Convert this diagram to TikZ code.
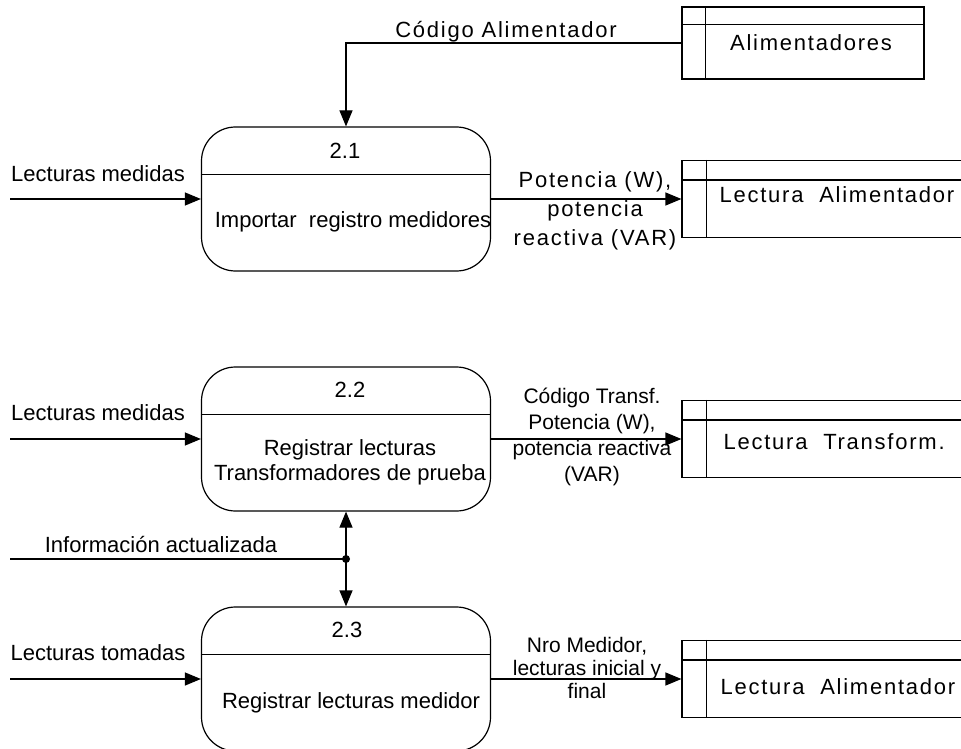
\documentclass[tikz,border=0pt]{standalone}
\usepackage{fontspec}
\setmainfont{Liberation Sans}
\usepackage{tikz}
\usetikzlibrary{arrows.meta}

\begin{document}
\begin{tikzpicture}[x=1pt,y=-1pt,line width=1.2pt,
  proc/.style={draw,rounded corners=34pt,minimum width=289pt,minimum height=144pt,inner sep=0pt},
  store/.style={draw,minimum width=280pt,minimum height=77pt,inner sep=0pt},
  txt/.style={inner sep=0pt,align=center,font=\fontsize{22}{25}\selectfont},
  wide/.style={inner sep=0pt,align=center,font=\fontsize{22}{29}\selectfont\addfontfeature{LetterSpace=8}},
  flow/.style={-{Triangle[length=16pt,width=13pt]}},
  dflow/.style={{Triangle[length=16pt,width=13pt]}-{Triangle[length=16pt,width=13pt]}}]
\useasboundingbox (0,0) rectangle (961,749);

\node[proc] (p21) at (346,199) {};
\node[proc] (p22) at (346,439) {};
\node[proc] (p23) at (346,679) {};
\draw ([yshift=-48pt]p21.north west) -- ([yshift=-48pt]p21.north east);
\draw ([yshift=-48pt]p22.north west) -- ([yshift=-48pt]p22.north east);
\draw ([yshift=-48pt]p23.north west) -- ([yshift=-48pt]p23.north east);
\node[txt] (n21) at (345,151) {2.1};
\node[txt] (n22) at (350,390) {2.2};
\node[txt] (n23) at (347,630) {2.3};
\node[txt] (t21) at (353,222) {Importar\ \ registro medidores};
\node[txt] (t22) at (350,462) {Registrar lecturas\\Transformadores de prueba};
\node[txt] (t23) at (351,703) {Registrar lecturas medidor};

\node[store,minimum width=242pt,minimum height=72pt] (s1) at (803,43) {};
\node[store] (s2) at (822,199) {};
\node[store] (s3) at (822,439) {};
\node[store] (s4) at (822,679) {};
\draw ([yshift=-18pt]s1.north west) -- ([yshift=-18pt]s1.north east);
\draw ([xshift=24pt]s1.north west) -- ([xshift=24pt]s1.south west);
\draw ([yshift=-20pt]s2.north west) -- ([yshift=-20pt]s2.north east);
\draw ([xshift=25pt]s2.north west) -- ([xshift=25pt]s2.south west);
\draw ([yshift=-20pt]s3.north west) -- ([yshift=-20pt]s3.north east);
\draw ([xshift=25pt]s3.north west) -- ([xshift=25pt]s3.south west);
\draw ([yshift=-20pt]s4.north west) -- ([yshift=-20pt]s4.north east);
\draw ([xshift=25pt]s4.north west) -- ([xshift=25pt]s4.south west);
\node[wide] (ts1) at (811,43) {Alimentadores};
\node[wide,anchor=west] (ts2) at (719,195) {Lectura\ \ Alimentador};
\node[wide,anchor=west] (ts3) at (723,442) {Lectura\ \ Transform.};
\node[wide,anchor=west] (ts4) at (720,687) {Lectura\ \ Alimentador};

\coordinate (in1) at (10,199);
\coordinate (in2) at (10,439);
\coordinate (in3) at (10,679);
\coordinate (in4) at (10,559);
\coordinate (j) at (346,559);

\draw[flow] (s1.west) -| (p21.north);
\draw[flow] (in1) -- (p21.west);
\draw[flow] (in2) -- (p22.west);
\draw[flow] (in3) -- (p23.west);
\draw[flow] (p21.east) -- (s2.west);
\draw[flow] (p22.east) -- (s3.west);
\draw[flow] (p23.east) -- (s4.west);
\draw[dflow] (p22.south) -- (p23.north);
\draw (in4) -- (j);
\fill (j) circle (4pt);

\node[wide] (l1) at (506,32) {Código Alimentador};
\node[txt] (l2) at (98,174) {Lecturas medidas};
\node[txt] (l3) at (98,413) {Lecturas medidas};
\node[txt] (l4) at (98,653) {Lecturas tomadas};
\node[txt] (l5) at (161,545) {Información actualizada};
\node[wide] (l6) at (595,211) {Potencia (W),\\potencia\\reactiva (VAR)};
\node[txt,font=\fontsize{21}{26}\selectfont] (l7) at (592,437) {Código Transf.\\Potencia (W),\\potencia reactiva\\(VAR)};
\node[txt,font=\fontsize{21}{23}\selectfont] (l8) at (587,668) {Nro Medidor,\\lecturas inicial y\\final};
\end{tikzpicture}
\end{document}
